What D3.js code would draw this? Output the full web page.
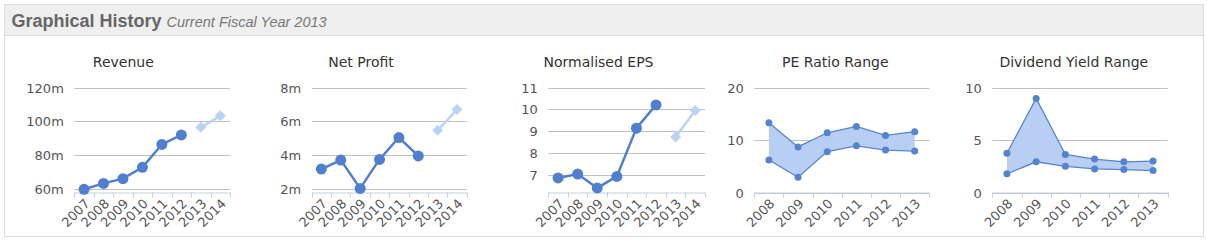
<!DOCTYPE html>
<html><head><meta charset="utf-8">
<script src="https://cdnjs.cloudflare.com/ajax/libs/d3/7.8.5/d3.min.js"></script>
<style>
html,body{margin:0;padding:0;background:#fff;}
svg{display:block;}
</style></head>
<body>
<svg id="c" width="1207" height="242"></svg>
<script>
// ---- data ----
const years8 = ["2007","2008","2009","2010","2011","2012","2013","2014"];
const years6 = ["2008","2009","2010","2011","2012","2013"];
const revenueActual = [59.8, 63.3, 66.1, 72.8, 86.4, 92.0];
const revenueForecast = [96.5, 103.4];
const profitActual = [3.17, 3.7, 2.02, 3.74, 5.04, 3.95];
const profitForecast = [5.47, 6.7];
const epsActual = [6.85, 7.03, 6.39, 6.92, 9.14, 10.21];
const epsForecast = [8.73, 9.95];
const peHigh = [13.3, 8.7, 11.4, 12.6, 10.9, 11.6];
const peLow = [6.2, 2.9, 7.8, 8.9, 8.1, 7.9];
const divHigh = [3.75, 8.97, 3.63, 3.19, 2.93, 3.0];
const divLow = [1.78, 2.93, 2.5, 2.25, 2.19, 2.09];
const revenueTicks = [60, 80, 100, 120];
const profitTicks = [2, 4, 6, 8];
const epsTicks = [7, 8, 9, 10, 11];
const peTicks = [0, 10, 20];
const divTicks = [0, 5, 10];
const titles = ["Revenue", "Net Profit", "Normalised EPS", "PE Ratio Range", "Dividend Yield Range"];

// ---- layout ----
const svg = d3.select("#c");
const FONT = "DejaVu Sans, sans-serif";
const LINE = "#4f7fce", FORE = "#b9d3f7", AREA = "#b8cff3", AREALINE = "#5584cf";
const TOP = 87.7, BOTTOM = 192.5;

// frame + header
svg.append("rect").attr("x",4.5).attr("y",4.5).attr("width",1199).attr("height",232)
  .attr("fill","#fff").attr("stroke","#dcdcdc");
svg.append("rect").attr("x",5).attr("y",5).attr("width",1198).attr("height",30).attr("fill","#efefef");
svg.append("line").attr("x1",5).attr("x2",1203).attr("y1",35.5).attr("y2",35.5).attr("stroke","#dcdcdc");
svg.append("text").attr("x",11.5).attr("y",27).text("Graphical History")
  .attr("font-family","Liberation Sans, Arial, sans-serif")
  .attr("font-weight","bold").attr("font-size","18px").attr("fill","#666");
svg.append("text").attr("x",166.5).attr("y",27).text("Current Fiscal Year 2013")
  .attr("font-family","Liberation Sans, Arial, sans-serif")
  .attr("font-style","italic").attr("font-size","14.5px").attr("fill","#777");

const panels = [
  {title: titles[0], cx: 123.3, left: 74.3, right: 230, cats: years8, domain: [57.9, 120], ticks: revenueTicks, fmt: d => d + "m", actual: revenueActual, forecast: revenueForecast},
  {title: titles[1], cx: 361, left: 311.7, right: 466.7, cats: years8, domain: [1.775, 8], ticks: profitTicks, fmt: d => d + "m", actual: profitActual, forecast: profitForecast},
  {title: titles[2], cx: 598.5, left: 548.3, right: 705, cats: years8, domain: [6.18, 11], ticks: epsTicks, fmt: d => d, actual: epsActual, forecast: epsForecast},
  {title: titles[3], cx: 835.3, left: 754.3, right: 929.3, cats: years6, domain: [0, 20], ticks: peTicks, fmt: d => d, high: peHigh, low: peLow},
  {title: titles[4], cx: 1073.8, left: 992.3, right: 1167.7, cats: years6, domain: [0, 10], ticks: divTicks, fmt: d => d, high: divHigh, low: divLow}
];

panels.forEach(p => {
  const g = svg.append("g");
  const x = d3.scaleBand().domain(p.cats).range([p.left, p.right]);
  const y = d3.scaleLinear().domain(p.domain).range([BOTTOM, TOP]);
  const cxp = c => x(c) + x.bandwidth() / 2;

  g.append("text").attr("x", p.cx).attr("y", 67).attr("text-anchor","middle")
    .attr("font-family", FONT).attr("font-size","14px").attr("fill","#333").text(p.title);

  // gridlines
  g.selectAll(".grid").data(p.ticks).join("line")
    .attr("x1", p.left).attr("x2", p.right)
    .attr("y1", d => Math.round(y(d)) + 0.5).attr("y2", d => Math.round(y(d)) + 0.5)
    .attr("stroke", "#c0c0c0").attr("stroke-width", 1);
  // y labels
  g.selectAll(".yl").data(p.ticks).join("text")
    .attr("x", p.left - 10.5).attr("y", d => y(d) + 5)
    .attr("text-anchor","end").attr("font-family", FONT).attr("font-size","13px").attr("fill","#555")
    .text(p.fmt);

  // x axis
  const ax = d3.axisBottom(x).tickSize(5).tickFormat("");
  const axg = g.append("g").attr("transform", `translate(0,${BOTTOM})`).call(ax);
  axg.select(".domain").attr("stroke","#c0d0e0").attr("d", `M${p.left},0.5H${p.right}`);
  axg.selectAll(".tick").remove();
  const bounds = p.cats.map(c => x(c)).concat([p.right]);
  g.selectAll(".xt").data(bounds).join("line")
    .attr("x1", d => Math.round(d) + 0.5).attr("x2", d => Math.round(d) + 0.5)
    .attr("y1", BOTTOM).attr("y2", BOTTOM + 5).attr("stroke","#c0d0e0");
  g.selectAll(".xl").data(p.cats).join("text")
    .attr("transform", d => `translate(${cxp(d) + 6.5},${BOTTOM + 12}) rotate(-45)`)
    .attr("text-anchor","end").attr("font-family", FONT).attr("font-size","13px").attr("fill","#555")
    .text(d => d);

  if (p.actual) {
    const act = p.actual.map((v, i) => [p.cats[i], v]);
    const fc = p.forecast.map((v, i) => [p.cats[p.actual.length + i], v]);
    const line = d3.line().x(d => cxp(d[0])).y(d => y(d[1]));
    g.append("path").attr("d", line(act)).attr("fill","none").attr("stroke", LINE).attr("stroke-width", 2.5);
    g.selectAll(".pt").data(act).join("circle")
      .attr("cx", d => cxp(d[0])).attr("cy", d => y(d[1])).attr("r", 5.5).attr("fill", LINE);
    g.append("path").attr("d", line(fc)).attr("fill","none").attr("stroke", FORE).attr("stroke-width", 2.5);
    g.selectAll(".fp").data(fc).join("path")
      .attr("d", d => { const a = cxp(d[0]), b = y(d[1]), s = 5.5; return `M${a},${b - s}L${a + s},${b}L${a},${b + s}L${a - s},${b}Z`; })
      .attr("fill", FORE);
  } else {
    const rows = p.cats.map((c, i) => ({c, hi: p.high[i], lo: p.low[i]}));
    const area = d3.area().x(d => cxp(d.c)).y0(d => y(d.lo)).y1(d => y(d.hi));
    g.append("path").attr("d", area(rows)).attr("fill", AREA);
    const lh = d3.line().x(d => cxp(d.c)).y(d => y(d.hi));
    const ll = d3.line().x(d => cxp(d.c)).y(d => y(d.lo));
    g.append("path").attr("d", lh(rows)).attr("fill","none").attr("stroke", AREALINE).attr("stroke-width", 1.3);
    g.append("path").attr("d", ll(rows)).attr("fill","none").attr("stroke", AREALINE).attr("stroke-width", 1.3);
    g.selectAll(".ph").data(rows).join("circle").attr("cx", d => cxp(d.c)).attr("cy", d => y(d.hi)).attr("r", 3.5).attr("fill", AREALINE);
    g.selectAll(".pl").data(rows).join("circle").attr("cx", d => cxp(d.c)).attr("cy", d => y(d.lo)).attr("r", 3.5).attr("fill", AREALINE);
  }
});
</script>
</body></html>
